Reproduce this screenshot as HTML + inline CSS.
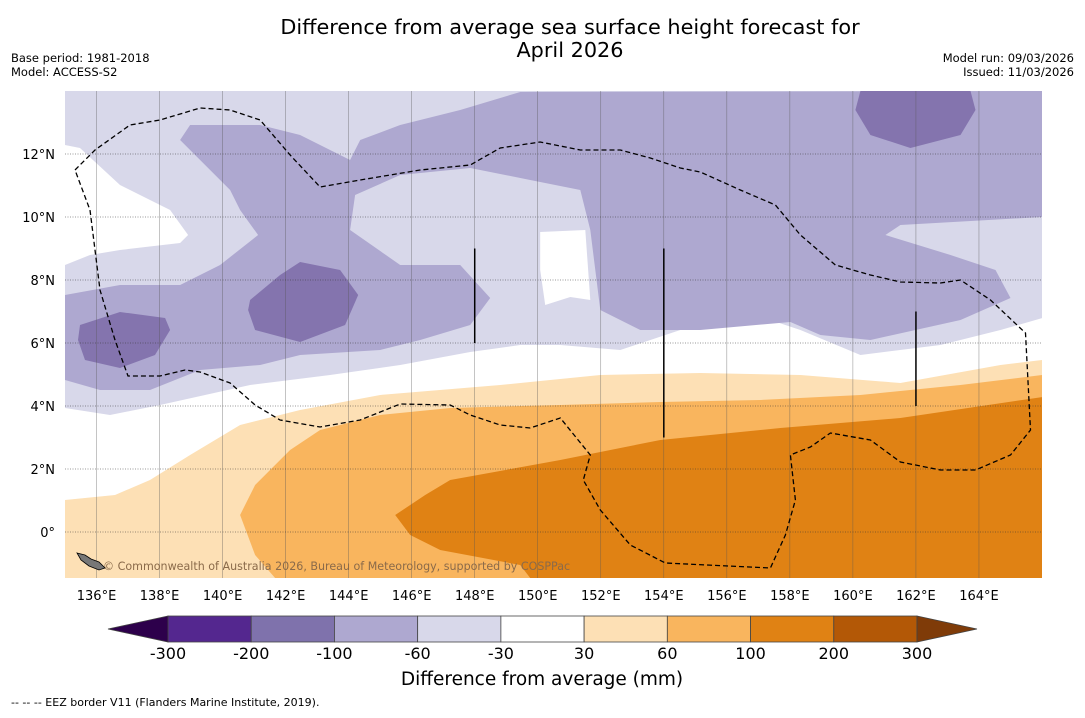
<!DOCTYPE html>
<html><head><meta charset="utf-8"><style>
body{margin:0;background:#fff;font-family:"Liberation Sans","DejaVu Sans",sans-serif;}
svg text{font-family:"DejaVu Sans","Liberation Sans",sans-serif;}
</style></head><body>
<svg id="chart" width="1085" height="713" viewBox="0 0 1085 713" xmlns="http://www.w3.org/2000/svg">
<text x="570" y="34" font-size="20.8" text-anchor="middle">Difference from average sea surface height forecast for</text>
<text x="570" y="57" font-size="20.8" text-anchor="middle">April 2026</text>
<text x="11" y="62" font-size="11.5">Base period: 1981-2018</text>
<text x="11" y="76" font-size="11.5">Model: ACCESS-S2</text>
<text x="1074" y="62" font-size="11.5" text-anchor="end">Model run: 09/03/2026</text>
<text x="1074" y="76" font-size="11.5" text-anchor="end">Issued: 11/03/2026</text>
<g id="map"></g>
<g id="cbar"></g>
<text x="542" y="685" font-size="18.5" text-anchor="middle">Difference from average (mm)</text>
<text x="11" y="706" font-size="11">--  --  -- EEZ border V11 (Flanders Marine Institute, 2019).</text>
</svg>
<script>
// axis domain
const lonTicks=[136,138,140,142,144,146,148,150,152,154,156,158,160,162,164];
const latTicks=[0,2,4,6,8,10,12];
const cbarLevels=[-300,-200,-100,-60,-30,30,60,100,200,300];
const cbarColors=['#54278f','#7f72ac','#aea8d0','#d8d8ea','#ffffff','#fde0b5','#f9b55e','#e08214','#b35806'];
const cbarExtend=['#2d004b','#7f3b08'];
// contour regions (pixel-estimated, stored as lon/lat pairs)
const P=(a)=>a.map(p=>[135+(p[0]-65)/31.5,14-(p[1]-91)/31.5]);
const lightPurple=P([[65,91],[1042,91],[1042,318],[1000,330],[940,345],[860,355],[800,330],[740,310],[680,330],[620,350],[560,345],[520,345],[470,352],[400,365],[330,375],[250,385],[160,405],[110,415],[65,408]]);
const midPurple=P([[65,295],[120,285],[180,285],[220,265],[258,235],[240,210],[230,190],[180,140],[190,125],[260,125],[300,135],[350,160],[360,140],[400,125],[460,110],[520,92],[1042,91],[1042,217],[900,225],[885,235],[950,255],[995,270],[1010,298],[960,320],[870,340],[820,335],[790,322],[700,330],[640,330],[600,310],[590,230],[580,190],[530,180],[470,168],[400,175],[355,195],[350,230],[400,265],[460,265],[490,298],[470,325],[420,340],[380,350],[300,355],[260,365],[200,370],[150,390],[100,390],[65,380]]);
const darkPurpleA=P([[860,91],[970,91],[975,110],[960,135],[910,148],[870,135],[855,110]]);
const darkPurpleB=P([[250,300],[280,275],[300,262],[340,270],[358,295],[345,325],[300,342],[255,330],[248,310]]);
const darkPurpleC=P([[80,325],[120,312],[165,318],[170,330],[155,355],[120,368],[85,360],[78,340]]);
const whiteA=P([[65,145],[80,148],[120,185],[170,210],[188,235],[180,243],[120,250],[90,255],[65,265]]);
const whiteB=P([[540,232],[585,230],[590,300],[570,297],[545,305],[540,270]]);
const lightOrange=P([[65,500],[115,495],[150,480],[190,455],[240,425],[300,410],[380,395],[500,385],[600,375],[700,373],[800,375],[900,383],[1000,365],[1042,360],[1042,578],[65,578]]);
const midOrange=P([[1042,375],[960,385],[860,395],[760,400],[660,402],[560,405],[450,408],[380,415],[320,430],[290,450],[255,485],[240,515],[255,555],[275,578],[1042,578]]);
const darkOrange=P([[1042,397],[900,418],[780,428],[660,440],[560,460],[450,480],[425,495],[395,515],[410,535],[440,550],[520,565],[530,578],[1042,578]]);
const eez=P([[75,170],[95,150],[130,125],[160,120],[200,108],[230,110],[260,120],[290,155],[320,187],[360,180],[420,170],[470,165],[500,148],[540,142],[580,150],[620,150],[650,158],[680,168],[700,172],[740,190],[775,205],[800,235],[835,265],[870,275],[900,282],[940,283],[960,280],[990,300],[1025,333],[1030,430],[1010,455],[975,470],[940,470],[900,462],[870,440],[830,433],[810,447],[790,455],[795,500],[785,535],[770,568],[665,563],[630,545],[600,510],[583,480],[590,455],[560,418],[530,428],[500,425],[470,415],[450,405],[400,404],[360,420],[320,427],[280,420],[255,405],[230,383],[200,372],[185,370],[160,376],[128,376],[115,340],[100,290],[90,210],[75,170]]);
const vLineLat=[[148,6,9],[154,3,9],[162,4,7]];

const X0=65,X1=1042,Y0=91,Y1=578,LON0=135,LON1=166,LAT0=-1.46,LAT1=14;
const xs=l=>X0+(l-LON0)/(LON1-LON0)*(X1-X0);
const ys=l=>Y0+(LAT1-l)/(LAT1-LAT0)*(Y1-Y0);
const NS='http://www.w3.org/2000/svg';
const map=document.getElementById('map');
function mk(tag,attrs,parent){const e=document.createElementNS(NS,tag);for(const k in attrs)e.setAttribute(k,attrs[k]);parent.appendChild(e);return e;}
const clip=mk('clipPath',{id:'mc'},map);mk('rect',{x:X0,y:Y0,width:X1-X0,height:Y1-Y0},clip);
const g=mk('g',{'clip-path':'url(#mc)'},map);
const pts=a=>a.map(p=>xs(p[0]).toFixed(1)+','+ys(p[1]).toFixed(1)).join(' ');
const regions=[[lightPurple,'#d8d8ea','region-lt-minus30'],[midPurple,'#aea8d0','region-lt-minus60'],[darkPurpleA,'#8474ae','region-lt-minus100'],[darkPurpleB,'#8474ae','region-lt-minus100'],[darkPurpleC,'#8474ae','region-lt-minus100'],[whiteA,'#ffffff','region-neutral'],[whiteB,'#ffffff','region-neutral'],[lightOrange,'#fde0b5','region-gt-30'],[midOrange,'#f9b55e','region-gt-60'],[darkOrange,'#e08214','region-gt-100']];
mk('rect',{x:X0,y:Y0,width:X1-X0,height:Y1-Y0,fill:'#fff'},g);
regions.forEach(r=>{const e=mk('polygon',{points:pts(r[0]),fill:r[1]},g);

});
lonTicks.forEach(l=>{const e=mk('line',{x1:xs(l),x2:xs(l),y1:Y0,y2:Y1,stroke:'#555','stroke-width':0.5,'stroke-opacity':0.7},g);


const t=mk('text',{x:xs(l),y:600,'font-size':13,'text-anchor':'middle'},document.getElementById('chart'));t.textContent=l+'°E';

});
latTicks.forEach(l=>{const e=mk('line',{x1:X0,x2:X1,y1:ys(l),y2:ys(l),stroke:'#333','stroke-width':0.6,'stroke-dasharray':'1,1.5'},g);


const t=mk('text',{x:55,y:ys(l)+5,'font-size':13,'text-anchor':'end'},document.getElementById('chart'));t.textContent=l===0?'0°':l+'°N';

});
const ez=mk('polyline',{points:pts(eez),fill:'none',stroke:'#000','stroke-width':1.3,'stroke-dasharray':'5,3'},g);


vLineLat.forEach(v=>{const e=mk('line',{x1:xs(v[0]),x2:xs(v[0]),y1:ys(v[1]),y2:ys(v[2]),stroke:'#000','stroke-width':1.5},g);

});
const cr=mk('text',{x:103,y:570,'font-size':11.1,fill:'#8a6a4a'},g);cr.textContent='© Commonwealth of Australia 2026, Bureau of Meteorology, supported by COSPPac';


const isl=mk('path',{d:'M77,553 l8,2 l6,4 l8,3 l6,6 l-6,2 l-10,-4 l-8,-6 z',fill:'#777',stroke:'#000','stroke-width':0.8},g);


// colorbar
const cb=document.getElementById('cbar');
const CX0=168,CX1=917,CY=616,CH=26,bw=(CX1-CX0)/cbarColors.length;
cbarColors.forEach((c,i)=>{const e=mk('rect',{x:CX0+i*bw,y:CY,width:bw,height:CH,fill:c,stroke:'#444','stroke-width':0.8},cb);

});
const tl=mk('polygon',{points:`${CX0},${CY} 108,${CY+CH/2} ${CX0},${CY+CH}`,fill:cbarExtend[0],stroke:'#444','stroke-width':0.8},cb);


const tr=mk('polygon',{points:`${CX1},${CY} 977,${CY+CH/2} ${CX1},${CY+CH}`,fill:cbarExtend[1],stroke:'#444','stroke-width':0.8},cb);


cbarLevels.forEach((v,i)=>{const t=mk('text',{x:CX0+i*bw,y:659,'font-size':16,'text-anchor':'middle'},cb);t.textContent=v;

});
</script>
</body></html>
